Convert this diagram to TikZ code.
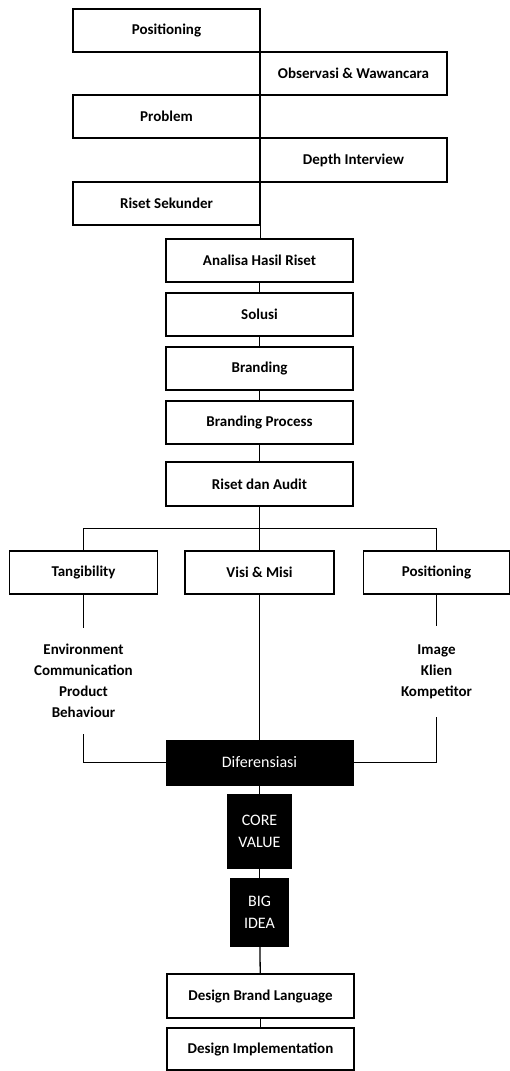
\documentclass[tikz,border=0pt]{standalone}
\usepackage{fontspec}
\setmainfont{Carlito}
\usepackage{tikz}
\tikzstyle{box}=[draw,line width=1.3pt,minimum width=187pt,minimum height=43pt,inner sep=0pt,font=\fontsize{15}{21}\selectfont\bfseries]
\tikzstyle{pillar}=[box,minimum width=148pt]
\tikzstyle{core}=[draw,fill=black,text=white,inner sep=0pt,align=center,font=\fontsize{16}{22}\selectfont]
\tikzstyle{list}=[align=center,inner sep=0pt,font=\fontsize{15}{21}\selectfont\bfseries]
\tikzstyle{link}=[line width=1.3pt]

\begin{document}
\begin{tikzpicture}[x=1pt,y=-1pt]
    \useasboundingbox (0,0) rectangle (509,1071);
    \node[box] (pos) at (166.5,30.5) {Positioning};
    \node[box] (obs) at (353.5,73.5) {Observasi \& Wawancara};
    \node[box] (prob) at (166.5,116.5) {Problem};
    \node[box,minimum height=44pt] (depth) at (353.5,160) {Depth Interview};
    \node[box] (sek) at (166.5,203.5) {Riset Sekunder};
    \node[box] (ahr) at (259.5,260.5) {Analisa Hasil Riset};
    \node[box] (sol) at (259.5,314.5) {Solusi};
    \node[box] (brd) at (259.5,368.5) {Branding};
    \node[box] (bp) at (259.5,422.5) {Branding Process};
    \node[box,minimum height=44pt] (audit) at (259.5,484) {Riset dan Audit};
    \coordinate (bar) at (259.5,528.5);
    \node[pillar] (tang) at (83.5,572.5) {Tangibility};
    \node[pillar,minimum width=149pt] (visi) at (259.5,572.5) {Visi \& Misi};
    \node[pillar,minimum width=146pt] (posr) at (436.5,572.5) {Positioning};
    \node[list,minimum height=106pt] (tlist) at (83.5,681) {Environment\\Communication\\Product\\Behaviour};
    \node[list,minimum height=91pt] (plist) at (436.5,671.5) {Image\\Klien\\Kompetitor};
    \node[core,minimum width=187pt,minimum height=45pt] (dif) at (259.5,762.5) {Diferensiasi};
    \node[core,minimum width=64pt,minimum height=74pt] (cv) at (259.5,831) {CORE\\VALUE};
    \node[core,minimum width=58pt,minimum height=68pt] (bi) at (259.5,912) {BIG\\IDEA};
    \node[box,minimum height=44pt] (dbl) at (260.5,996) {Design Brand Language};
    \node[box,minimum height=42pt] (dim) at (260.5,1049) {Design Implementation};
    \draw[link] (sek.south east) -- (sek.south east |- ahr.north);
    \foreach \a/\b in {ahr/sol,sol/brd,brd/bp,bp/audit,dif/cv,cv/bi,bi/dbl,dbl/dim}
        \draw[link] (\a) -- (\b);
    \draw[link] (audit.south) -- (bar);
    \draw[link] (tang.north) |- (bar) -| (posr.north);
    \draw[link] (bar) -- (visi.north);
    \draw[link] (tang) -- (tlist.north);
    \draw[link] (posr) -- (plist.north);
    \draw[link] (tlist.south) |- (dif.west);
    \draw[link] (plist.south) |- (dif.east);
    \draw[link] (visi) -- (dif);
\end{tikzpicture}
\end{document}
